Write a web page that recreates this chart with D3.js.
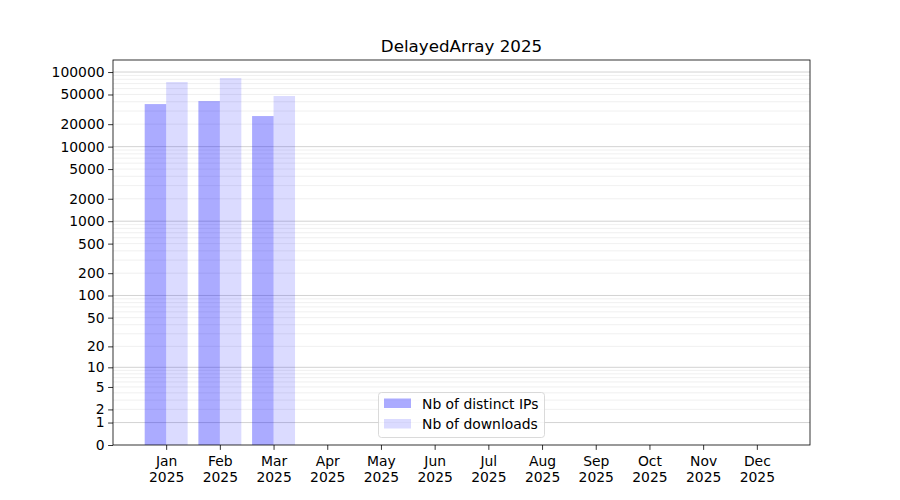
<!DOCTYPE html>
<html><head><meta charset="utf-8">
<script src="https://cdn.jsdelivr.net/npm/d3@7"></script>
<style>body{margin:0;background:#fff;} text{font-family:"DejaVu Sans",sans-serif;}</style>
</head><body><svg id="c" width="900" height="500"></svg>
<script>
const months = ["Jan","Feb","Mar","Apr","May","Jun","Jul","Aug","Sep","Oct","Nov","Dec"];
const year = "2025";
const distinctIPs = [37200, 40800, 25700, null, null, null, null, null, null, null, null, null];
const downloads = [73500, 83100, 47700, null, null, null, null, null, null, null, null, null];
const yTicks = [0,1,2,5,10,20,50,100,200,500,1000,2000,5000,10000,20000,50000,100000];
const majorGrid = [1,10,100,1000,10000,100000];
const title = "DelayedArray 2025";
const seriesNames = ["Nb of distinct IPs","Nb of downloads"];

const svg = d3.select("#c");
const L=113, R=810, T=60, B=445;
const x = d3.scaleLinear().domain([-0.99, 11.99]).range([L,R]);
const y = d3.scaleSymlog().constant(1).domain([0, 145000]).range([B,T]);

// minor grid
const minor=[];
for (let e=0;e<=5;e++) for (let k=2;k<=9;k++){const v=k*Math.pow(10,e); if (v<145000) minor.push(v);}
svg.append("g").selectAll("line").data(minor).join("line")
  .attr("x1",L).attr("x2",R).attr("y1",d=>y(d)).attr("y2",d=>y(d))
  .attr("stroke","#ececec").attr("stroke-width",0.8);
svg.append("g").selectAll("line").data(majorGrid).join("line")
  .attr("x1",L).attr("x2",R).attr("y1",d=>y(d)).attr("y2",d=>y(d))
  .attr("stroke","#c8c8c8").attr("stroke-width",0.8);

const w = 0.4;
svg.append("g").selectAll("rect").data(distinctIPs.map((v,i)=>({v,i})).filter(d=>d.v!=null)).join("rect")
  .attr("x",d=>x(d.i-w)).attr("width",d=>x(d.i)-x(d.i-w))
  .attr("y",d=>y(d.v)).attr("height",d=>B-y(d.v))
  .attr("fill","#0000ff").attr("fill-opacity",0.33);
svg.append("g").selectAll("rect").data(downloads.map((v,i)=>({v,i})).filter(d=>d.v!=null)).join("rect")
  .attr("x",d=>x(d.i)).attr("width",d=>x(d.i+w)-x(d.i))
  .attr("y",d=>y(d.v)).attr("height",d=>B-y(d.v))
  .attr("fill","#0000ff").attr("fill-opacity",0.14);

// axes
const yAxis = d3.axisLeft(y).tickValues(yTicks).tickFormat(d3.format("d")).tickSize(4.9).tickPadding(3.5);
const gy = svg.append("g").attr("transform",`translate(${L},0)`).call(yAxis);
gy.select(".domain").remove();
gy.selectAll("text").attr("font-size","13.9px").attr("fill","#000").attr("font-family","DejaVu Sans");
gy.selectAll("line").attr("stroke","#000").attr("stroke-width",0.8);

const xAxis = d3.axisBottom(x).tickValues(d3.range(12)).tickFormat(()=>"").tickSize(4.9);
const gx = svg.append("g").attr("transform",`translate(0,${B})`).call(xAxis);
gx.select(".domain").remove();
gx.selectAll("line").attr("stroke","#000").attr("stroke-width",0.8);
gx.selectAll(".tick").each(function(d){
  const t=d3.select(this).append("text").attr("fill","#000").attr("font-size","13.9px").attr("text-anchor","middle").attr("font-family","DejaVu Sans");
  t.append("tspan").attr("x",0).attr("y",21).text(months[d]);
  t.append("tspan").attr("x",0).attr("y",37).text(year);
});

svg.append("rect").attr("x",L).attr("y",T).attr("width",R-L).attr("height",B-T)
  .attr("fill","none").attr("stroke","#000").attr("stroke-width",0.8);

svg.append("text").attr("x",(L+R)/2).attr("y",52).attr("text-anchor","middle")
  .attr("font-size","16.7px").attr("fill","#000").text(title);

// legend
const lg = svg.append("g");
lg.append("rect").attr("x",378.5).attr("y",392.5).attr("width",166).attr("height",45).attr("rx",3)
  .attr("fill","#fff").attr("fill-opacity",0.8).attr("stroke","#d0d0d0").attr("stroke-width",0.8);
[0.33,0.14].forEach((op,i)=>{
  lg.append("rect").attr("x",384).attr("y",398.5+i*20.5).attr("width",27).attr("height",9.5)
    .attr("fill","#0000ff").attr("fill-opacity",op);
  lg.append("text").attr("x",422).attr("y",408.5+i*20.5).attr("font-size","13.9px").attr("fill","#000").text(seriesNames[i]);
});
</script></body></html>
